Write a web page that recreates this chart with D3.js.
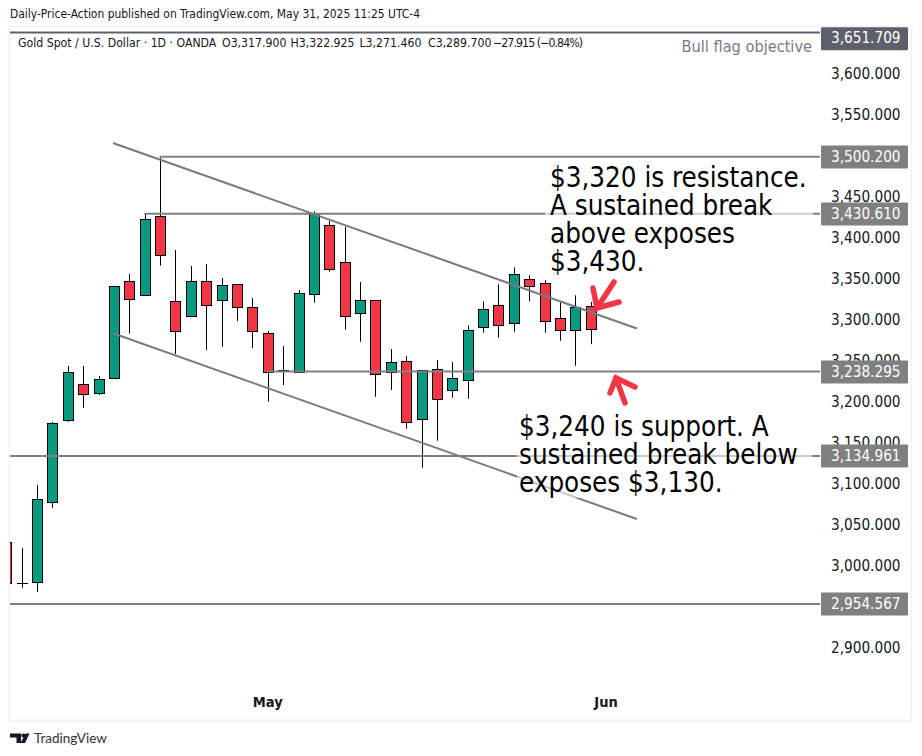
<!DOCTYPE html>
<html>
<head>
<meta charset="utf-8">
<title>Gold Spot / U.S. Dollar</title>
<script src="https://d3js.org/d3.v7.min.js"></script>
<style>
    html, body { margin: 0; padding: 0; background: #fff; }
    svg { display: block; }
    text { font-family: "DejaVu Sans Condensed", "DejaVu Sans", sans-serif; }
</style>
</head>
<body>
<svg id="chart" width="922" height="756"></svg>
<script>
// daily candles
var opens  = [3030,2980.5,2981.7,3079.3,3178.6,3222.6,3211.6,3229.9,3348.2,3331.1,3427.5,3323.8,3305.5,3348.2,3325,3344.6,3316.5,3284.8,3239.6,3237.9,3332.4,3416.5,3371.4,3309.2,3325,3237.9,3250.6,3179.8,3240.9,3215.2,3227.4,3292.1,3318.9,3297,3350.7,3345.8,3303.1,3288.4,3317.9];
var highs  = [3030,3022.8,3099.7,3176.6,3244.9,3244.9,3232.7,3342.1,3357.1,3430.3,3500.2,3386.4,3366.9,3369.3,3352.2,3344.6,3327.8,3287.6,3269.3,3337.6,3433.6,3421.8,3414.8,3347.4,3325,3265.6,3257.1,3239.6,3252.2,3249.8,3294.5,3323.8,3344.6,3365.3,3355.5,3349.4,3322.6,3331.1,3322.925];
var lows   = [2980.5,2974.4,2969.5,3072,3176.9,3194,3209.5,3229.9,3284.3,3331.1,3367.2,3259.5,3305.5,3264.4,3268.4,3299.8,3266.8,3201.3,3221.7,3237.9,3322.1,3359.9,3289.2,3274.5,3207.4,3215.6,3168.4,3120.8,3153.7,3206.2,3205,3285.5,3279.4,3286.7,3323.8,3285.5,3275.7,3245.2,3271.46];
var closes = [2980.5,2980,3082.3,3175,3237.2,3210.4,3228.7,3342.1,3326.3,3423.8,3379.9,3287.2,3348.2,3318.9,3343.3,3316.5,3287.2,3237.2,3240,3333.6,3430,3362.9,3305.5,3325,3234.8,3249.4,3176.2,3239.6,3204.3,3229.9,3288.4,3314.1,3294.5,3356.7,3342.1,3299.4,3288.4,3316.5,3289.7];

var priceTicks = [2900,3000,3050,3100,3150,3200,3250,3300,3350,3400,3450,3550,3600];
var monthTicks = [17, 39];
var monthNames = ["May", "Jun"];

// horizontal levels and the candle each one starts from
var levels     = [3651.709, 3500.2, 3430.61, 3238.295, 3134.961, 2954.567];
var levelFrom  = [0, 10, 9, 17, 0, 0];
var levelColor = ["#5d606b", "#808080", "#808080", "#808080", "#808080", "#808080"];
var levelBox   = [38.8, 157, 214, 372, 456, 604];

// flag channel: [candle index, price]
var upperLine = [[6.9, 3516.9], [40.97, 3290.6]];
var lowerLine = [[6.9, 3284.8], [40.97, 3058.2]];

var legendParts = ["Gold Spot / U.S. Dollar \u00b7 1D \u00b7 OANDA", "O3,317.900", "H3,322.925", "L3,271.460", "C3,289.700", "\u221227.915 (\u22120.84%)"];
var legendLeft  = [18, 222, 290.5, 359.5, 428, 493];

var noteTop = ["$3,320 is resistance.", "A sustained break", "above exposes", "$3,430."];
var noteBottom = ["$3,240 is support. A", "sustained break below", "exposes $3,130."];

var svg = d3.select("#chart");
var paneLeft = 10, paneRight = 820, paneTop = 27, paneBottom = 720;

var x = d3.scaleLinear().domain([1, 38]).range([22.2, 591.2]);
var y = d3.scaleLinear().domain([2954.567, 3500.2]).range([604, 156.7]);
function cx(i) { return Math.floor(x(i)) + 0.5; }
function snap(v) { return Math.round(v) + 0.5; }

svg.append("text").attr("x", 10).attr("y", 18).attr("font-size", 11.95).attr("fill", "#131722")
    .text("Daily-Price-Action published on TradingView.com, May 31, 2025 11:25 UTC-4");

// frame
svg.append("rect").attr("x", 9.5).attr("y", 26.5).attr("width", 902).attr("height", 694)
    .attr("fill", "#fff").attr("stroke", "#f2f3f5").attr("stroke-width", 2);

svg.append("clipPath").attr("id", "pane").append("rect")
    .attr("x", paneLeft).attr("y", paneTop).attr("width", paneRight - paneLeft).attr("height", paneBottom - paneTop);
var pane = svg.append("g").attr("clip-path", "url(#pane)");

// candles
var candles = pane.selectAll("g.candle").data(d3.range(opens.length)).enter().append("g").attr("class", "candle");
candles.append("line")
    .attr("x1", cx).attr("x2", cx)
    .attr("y1", function(i) { return y(highs[i]); })
    .attr("y2", function(i) { return y(lows[i]); })
    .attr("stroke", "#000").attr("stroke-width", 1);
candles.append("rect")
    .attr("x", function(i) { return cx(i) - 5; })
    .attr("width", 10)
    .attr("y", function(i) { return snap(y(Math.max(opens[i], closes[i]))); })
    .attr("height", function(i) { return Math.max(0.01, snap(y(Math.min(opens[i], closes[i]))) - snap(y(Math.max(opens[i], closes[i])))); })
    .attr("fill", function(i) { return closes[i] >= opens[i] ? "#089981" : "#f23645"; })
    .attr("stroke", "#000").attr("stroke-width", 1);

// levels
pane.selectAll("line.level").data(levels).enter().append("line").attr("class", "level")
    .attr("x1", function(d, i) { return levelFrom[i] === 0 ? paneLeft : x(levelFrom[i]) - 1; })
    .attr("x2", paneRight)
    .attr("y1", function(d) { return y(d); })
    .attr("y2", function(d) { return y(d); })
    .attr("stroke", function(d, i) { return levelColor[i]; })
    .attr("stroke-width", 2);

// channel
var channel = d3.line().x(function(d) { return x(d[0]); }).y(function(d) { return y(d[1]); });
pane.selectAll("path.trend").data([upperLine, lowerLine]).enter().append("path").attr("class", "trend")
    .attr("d", channel).attr("fill", "none").attr("stroke", "#787b86").attr("stroke-width", 2);

// note boxes wash out what runs under them
function note(lines, left, first, boxX, boxY, boxW, boxH) {
    svg.append("rect").attr("x", boxX).attr("y", boxY).attr("width", boxW).attr("height", boxH)
        .attr("fill", "#fff").attr("fill-opacity", 0.6);
    svg.append("g").selectAll("text").data(lines).enter().append("text")
        .attr("x", left)
        .attr("y", function(d, i) { return first + i * 28; })
        .attr("font-size", 27.5).attr("fill", "#000")
        .text(function(d) { return d; });
}
note(noteTop, 550, 187, 545, 163, 268, 111);
note(noteBottom, 519, 436, 517, 412, 295, 86);

svg.append("text").attr("x", 812).attr("y", 52).attr("text-anchor", "end")
    .attr("font-size", 16.2).attr("fill", "#787b86").text("Bull flag objective");

svg.selectAll("text.legend").data(legendParts).enter().append("text").attr("class", "legend")
    .attr("x", function(d, i) { return legendLeft[i]; })
    .attr("y", 46.5)
    .attr("font-size", 12.2).attr("fill", "#131722")
    .attr("textLength", function(d, i) { return i === 5 ? 90 : null; })
    .text(function(d) { return d; });

// arrows
var arrowPen = d3.line();
var arrows = [
    [[593, 288], [597, 308], [619, 302]],
    [[597, 308], [614, 282]],
    [[635, 387], [616, 378], [610, 393]],
    [[616, 378], [625, 403]]
];
svg.selectAll("path.arrow").data(arrows).enter().append("path").attr("class", "arrow")
    .attr("d", arrowPen).attr("fill", "none").attr("stroke", "#f23645")
    .attr("stroke-width", 5.5).attr("stroke-linecap", "round").attr("stroke-linejoin", "miter");

// price axis
var yAxis = d3.axisRight(y).tickValues(priceTicks).tickSize(0).tickPadding(0).tickFormat(d3.format(",.3f"));
var yG = svg.append("g").attr("transform", "translate(831,-1.5)").call(yAxis);
yG.select(".domain").remove();
yG.selectAll("text").attr("font-size", 15.2).attr("fill", "#131722")
    .style("font-family", '"DejaVu Sans Condensed", "DejaVu Sans", sans-serif');

// level labels
var tags = svg.selectAll("g.tag").data(levels).enter().append("g").attr("class", "tag");
tags.append("rect")
    .attr("x", 821).attr("width", 87).attr("height", 23).attr("rx", 1)
    .attr("y", function(d, i) { return levelBox[i] - 11.5; })
    .attr("fill", function(d, i) { return levelColor[i]; });
tags.append("text")
    .attr("x", 831)
    .attr("y", function(d, i) { return levelBox[i] + 4.5; })
    .attr("font-size", 15.2).attr("fill", "#fff")
    .text(function(d) { return d3.format(",.3f")(d); });

// time axis
var xAxis = d3.axisBottom(x).tickValues(monthTicks).tickSize(0).tickPadding(0)
    .tickFormat(function(d, i) { return monthNames[i]; });
var xG = svg.append("g").attr("transform", "translate(-1,697)").call(xAxis);
xG.select(".domain").remove();
xG.selectAll("text").attr("font-size", 14.5).attr("font-weight", 600).attr("fill", "#131722")
    .style("font-family", '"DejaVu Sans Condensed", "DejaVu Sans", sans-serif');

// logo
var logo = svg.append("g").attr("fill", "#131722");
logo.append("path").attr("d", "M10 733.5H21V743H16.5V737.5H10Z");
logo.append("circle").attr("cx", 23.3).attr("cy", 735.5).attr("r", 2);
logo.append("path").attr("d", "M25.5 733.5H29.5L25 743H20.5Z");
svg.append("text").attr("x", 34).attr("y", 743).attr("font-size", 13.5).attr("fill", "#333")
    .style("font-family", 'Lato, sans-serif').text("TradingView");
</script>
</body>
</html>
